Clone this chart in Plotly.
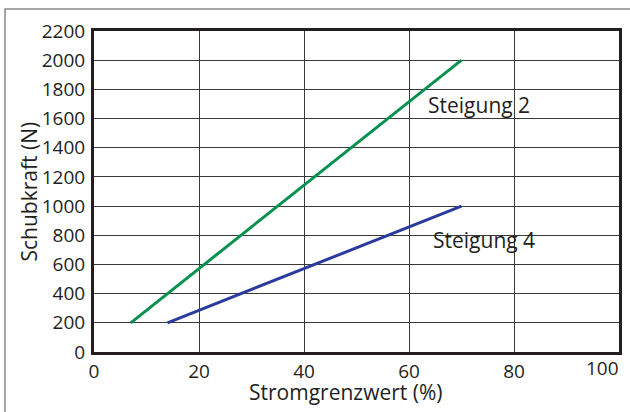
import plotly.graph_objects as go

# Data
steigung2_x = [7, 70]
steigung2_y = [200, 2000]
steigung4_x = [14, 70]
steigung4_y = [200, 1000]
x_ticks = [0, 20, 40, 60, 80]
y_ticks = [0, 200, 400, 600, 800, 1000, 1200, 1400, 1600, 1800, 2000, 2200]
labels = ["Steigung 2", "Steigung 4"]
label_pos = [(63.2, 1690), (64.2, 770)]

W, H = 630, 412
L, R, T, B = 94, 11, 31, 60
pw, ph = W - L - R, H - T - B
FONT = "Open Sans"
TXT = "#231f20"

fig = go.Figure()
fig.add_trace(go.Scatter(x=steigung2_x, y=steigung2_y, mode="lines",
                         line=dict(color="#079150", width=3), showlegend=False))
fig.add_trace(go.Scatter(x=steigung4_x, y=steigung4_y, mode="lines",
                         line=dict(color="#2a3b9e", width=3), showlegend=False))

for txt, (lx, ly) in zip(labels, label_pos):
    fig.add_annotation(x=lx, y=ly, text=txt, showarrow=False, xanchor="left",
                       yanchor="middle", font=dict(family=FONT, size=21, color=TXT))

# "100" label right-aligned at the axis end
fig.add_annotation(x=100, y=0, yref="y", text="100", showarrow=False, xanchor="right",
                   yanchor="top", yshift=-1, xshift=2, font=dict(family=FONT, size=19, color=TXT))

# axis titles
fig.add_annotation(xref="paper", yref="paper", x=(346 - L) / pw, y=(H - B - 392) / ph,
                   text="Stromgrenzwert (%)", showarrow=False, xanchor="center",
                   yanchor="middle", font=dict(family=FONT, size=21, color=TXT))
fig.add_annotation(xref="paper", yref="paper", x=(28 - L) / pw, y=0.5,
                   text="Schubkraft (N)", showarrow=False, textangle=-90, xanchor="center",
                   yanchor="middle", font=dict(family=FONT, size=21, color=TXT))

# outer frame (only left and top visible)
fig.add_shape(type="rect", xref="paper", yref="paper",
              x0=(5 - L) / pw, x1=(W + 20 - L) / pw,
              y0=-(H + 20 - T - ph) / ph, y1=(H - 9 - B) / ph,
              line=dict(color="#8a8a8a", width=1.5), layer="below")

fig.update_layout(
    width=W, height=H,
    margin=dict(l=L, r=R, t=T, b=B, autoexpand=False),
    paper_bgcolor="white", plot_bgcolor="white",
    font=dict(family=FONT, size=19, color=TXT),
    xaxis=dict(range=[0, 100], tickvals=x_ticks, showgrid=True, gridcolor="#3a3a3a",
               gridwidth=1, showline=True, linecolor=TXT, linewidth=3, mirror=True,
               zeroline=False, ticks="", ticklabelstandoff=0),
    yaxis=dict(range=[0, 2200], tickvals=y_ticks, showgrid=True, gridcolor="#3a3a3a",
               gridwidth=1, showline=True, linecolor=TXT, linewidth=3, mirror=True,
               zeroline=False, ticks="", ticklabelstandoff=2),
)

fig.write_html("out.html", config={"displayModeBar": False},
               post_script="document.body.style.margin='0';")
